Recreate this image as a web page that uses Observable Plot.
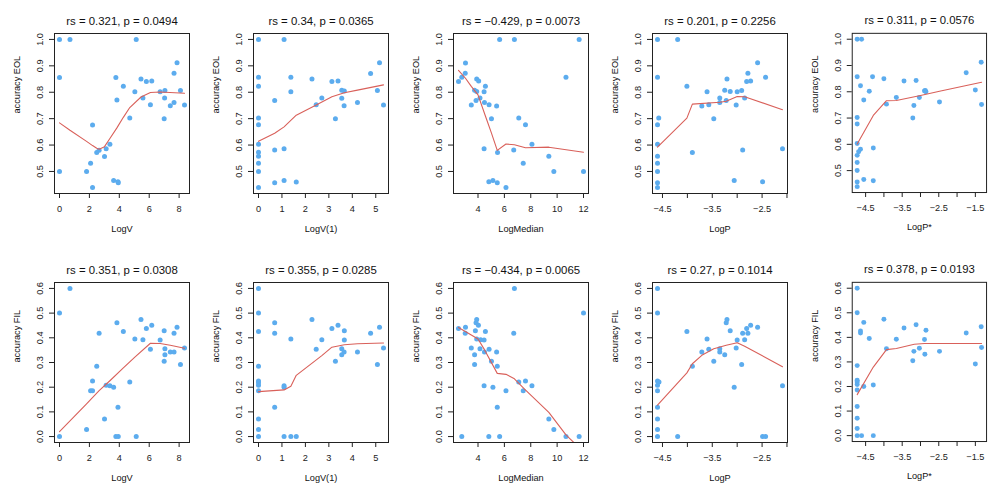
<!DOCTYPE html>
<html><head><meta charset="utf-8">
<script src="https://cdn.jsdelivr.net/npm/d3@7"></script>
<script src="https://cdn.jsdelivr.net/npm/@observablehq/plot@0.6"></script>
<style>
body{margin:0;background:#fff}
#c{position:relative;width:997px;height:498px;overflow:hidden}
.p{position:absolute}
</style>
</head><body><div id="c"></div>
<script>
// ---- data ----
const titles = ["rs = 0.321, p = 0.0494","rs = 0.34, p = 0.0365","rs = \u22120.429, p = 0.0073","rs = 0.201, p = 0.2256","rs = 0.311, p = 0.0576",
                "rs = 0.351, p = 0.0308","rs = 0.355, p = 0.0285","rs = \u22120.434, p = 0.0065","rs = 0.27, p = 0.1014","rs = 0.378, p = 0.0193"];
const xLabels = ["LogV","LogV(1)","LogMedian","LogP","LogP*"];
const yLabels = ["accuracy EOL","accuracy FIL"];
const ticksLogV = [0,2,4,6,8];
const ticksLogV1 = [0,1,2,3,4,5];
const ticksLogMedian = [4,6,8,10,12];
const ticksLogP = [-4.5,-4,-3.5,-3,-2.5,-2];
const labelsLogP = [-4.5,-3.5,-2.5];
const ticksLogPstar = [-4.5,-4,-3.5,-3,-2.5,-2,-1.5];
const labelsLogPstar = [-4.5,-3.5,-2.5,-1.5];
const ticksEOL = [0.5,0.6,0.7,0.8,0.9,1.0];
const ticksFIL = [0,0.1,0.2,0.3,0.4,0.5,0.6];

const eolLogV = [[0,1.0],[0.70,1.0],[5.13,1.0],[0,0.856],[0,0.5],[7.86,0.912],[7.66,0.872],[3.77,0.856],[5.45,0.85],[5.81,0.841],[6.17,0.843],[4.27,0.823],[5.04,0.802],[6.73,0.802],[7.05,0.807],[8.09,0.807],[5.58,0.778],[7.03,0.778],[3.84,0.771],[7.66,0.761],[7.41,0.749],[8.36,0.752],[6.08,0.753],[4.70,0.702],[7.0,0.70],[2.21,0.676],[3.37,0.603],[3.12,0.586],[2.65,0.580],[2.49,0.572],[3.01,0.557],[2.08,0.531],[1.81,0.5],[3.62,0.466],[3.91,0.461],[3.93,0.457],[2.21,0.439]];
const eolLogVFit = [[0,0.684],[0.7,0.656],[1.81,0.614],[2.21,0.598],[2.49,0.588],[2.65,0.584],[3.01,0.594],[3.37,0.625],[3.84,0.665],[4.27,0.705],[4.70,0.742],[5.45,0.782],[6.08,0.799],[6.73,0.801],[8.36,0.796]];

const eolLogV1 = [[0,1.0],[1.09,1.0],[0,0.857],[0,0.823],[0,0.702],[0,0.677],[0,0.603],[0,0.573],[0,0.558],[0,0.531],[0,0.5],[0,0.439],[0.69,0.769],[0.69,0.581],[0.69,0.457],[1.09,0.586],[1.09,0.466],[1.38,0.857],[1.38,0.802],[1.61,0.46],[2.28,0.85],[2.46,0.753],[2.70,0.778],[3.13,0.841],[3.39,0.843],[3.28,0.70],[3.55,0.808],[3.55,0.777],[3.66,0.805],[3.65,0.749],[4.22,0.761],[4.78,0.871],[5.16,0.912],[5.07,0.807],[5.33,0.752]];
const eolLogV1Fit = [[0,0.614],[0.69,0.645],[1.09,0.669],[1.61,0.713],[2.46,0.752],[3.13,0.783],[3.66,0.798],[4.22,0.808],[5.33,0.828]];

const eolLogMedian = [[5.64,1.0],[6.76,1.0],[11.67,1.0],[10.67,0.857],[2.52,0.841],[2.77,0.857],[3.05,0.911],[3.03,0.872],[3.90,0.85],[4.05,0.843],[4.56,0.823],[3.74,0.808],[3.90,0.803],[4.46,0.802],[4.15,0.778],[3.85,0.769],[3.49,0.752],[4.49,0.761],[4.84,0.753],[5.41,0.748],[5.02,0.70],[7.09,0.702],[7.60,0.677],[8.09,0.603],[4.46,0.586],[5.48,0.572],[6.71,0.581],[9.37,0.558],[7.43,0.531],[9.75,0.50],[12.0,0.50],[4.82,0.461],[5.13,0.466],[5.46,0.457],[6.12,0.439]];
const eolLogMedianFit = [[2.52,0.883],[3.05,0.853],[3.49,0.822],[4.0,0.79],[4.56,0.71],[5.02,0.645],[5.46,0.58],[6.12,0.604],[6.76,0.601],[7.6,0.59],[9.37,0.592],[12,0.573]];

const eolLogP = [[-4.60,1.0],[-4.195,1.0],[-4.60,0.857],[-4.01,0.823],[-4.575,0.702],[-4.60,0.677],[-4.60,0.603],[-4.60,0.558],[-4.60,0.531],[-4.60,0.50],[-4.60,0.457],[-4.60,0.439],[-3.90,0.572],[-3.71,0.748],[-3.57,0.753],[-3.605,0.802],[-3.47,0.70],[-3.35,0.778],[-3.35,0.761],[-3.25,0.808],[-3.22,0.769],[-3.205,0.85],[-3.14,0.803],[-3.06,0.466],[-3.02,0.752],[-3.00,0.802],[-2.91,0.807],[-2.89,0.581],[-2.85,0.778],[-2.81,0.841],[-2.785,0.872],[-2.73,0.843],[-2.59,0.912],[-2.43,0.857],[-2.49,0.461],[-2.09,0.586]];
const eolLogPFit = [[-4.60,0.592],[-4.01,0.702],[-3.90,0.755],[-3.35,0.762],[-3.22,0.766],[-3.0,0.784],[-2.85,0.783],[-2.09,0.734]];

const eolLogPstar = [[-4.73,1.0],[-4.61,1.0],[-4.73,0.857],[-4.31,0.857],[-4.64,0.823],[-4.55,0.769],[-4.40,0.802],[-4.0,0.85],[-3.93,0.753],[-3.66,0.778],[-3.45,0.841],[-3.12,0.843],[-3.18,0.748],[-3.21,0.70],[-3.03,0.778],[-2.89,0.803],[-2.87,0.805],[-2.85,0.80],[-2.48,0.761],[-1.75,0.872],[-1.50,0.807],[-1.34,0.912],[-1.33,0.752],[-4.73,0.702],[-4.73,0.677],[-4.73,0.603],[-4.69,0.572],[-4.64,0.581],[-4.73,0.558],[-4.73,0.531],[-4.73,0.5],[-4.73,0.457],[-4.73,0.439],[-4.55,0.466],[-4.29,0.586],[-4.29,0.461]];
const eolLogPstarFit = [[-4.73,0.601],[-4.29,0.71],[-3.93,0.766],[-3.66,0.767],[-3.03,0.785],[-2.48,0.802],[-1.33,0.836]];

const filLogV = [[0,0.50],[0.70,0.60],[0,0.0],[1.81,0.029],[2.08,0.186],[2.21,0.186],[2.21,0.225],[2.49,0.285],[2.65,0.418],[3.01,0.071],[3.12,0.208],[3.37,0.206],[3.62,0.20],[3.84,0.461],[3.91,0.119],[3.77,0.0],[3.93,0.0],[4.27,0.426],[4.70,0.221],[5.04,0.395],[5.13,0.0],[5.45,0.474],[5.58,0.392],[5.81,0.438],[6.08,0.354],[6.17,0.451],[6.73,0.391],[7.0,0.305],[7.0,0.429],[7.05,0.356],[7.05,0.331],[7.41,0.343],[7.66,0.343],[7.66,0.418],[7.86,0.443],[8.09,0.292],[8.36,0.359]];
const filLogVFit = [[0,0.02],[1.81,0.132],[2.65,0.186],[3.37,0.226],[4.27,0.278],[5.04,0.322],[6.08,0.378],[6.73,0.377],[7.41,0.37],[8.36,0.358]];

const filLogV1 = [[0,0.60],[0,0.50],[0,0.426],[0,0.285],[0,0.225],[0,0.218],[0,0.208],[0,0.186],[0,0.071],[0,0.029],[0,0.0],[0.69,0.461],[0.69,0.418],[0.69,0.119],[1.09,0.206],[1.09,0.20],[1.09,0],[1.38,0.395],[1.38,0],[1.61,0],[2.28,0.474],[2.46,0.354],[2.70,0.392],[3.13,0.438],[3.39,0.451],[3.28,0.305],[3.55,0.356],[3.55,0.331],[3.66,0.429],[3.66,0.391],[3.65,0.343],[4.22,0.343],[4.78,0.418],[5.16,0.443],[5.07,0.292],[5.33,0.359]];
const filLogV1Fit = [[0,0.182],[1.09,0.189],[1.38,0.204],[1.61,0.248],[2.70,0.328],[3.13,0.362],[3.66,0.372],[4.22,0.376],[5.33,0.379]];

const filLogMedian = [[6.76,0.60],[12.0,0.50],[2.52,0.438],[3.05,0.443],[3.03,0.418],[3.90,0.474],[3.85,0.461],[4.03,0.451],[3.80,0.429],[3.90,0.395],[4.20,0.392],[4.46,0.391],[4.56,0.426],[6.71,0.418],[3.49,0.359],[4.15,0.356],[4.84,0.354],[4.49,0.343],[5.41,0.343],[3.74,0.331],[5.02,0.305],[3.74,0.292],[5.46,0.285],[4.46,0.206],[5.13,0.20],[6.12,0.186],[7.09,0.221],[7.60,0.225],[7.43,0.186],[8.09,0.206],[5.46,0.119],[9.37,0.071],[9.75,0.029],[2.77,0],[4.82,0],[5.64,0],[10.67,0],[11.67,0]];
const filLogMedianFit = [[2.52,0.442],[3.49,0.411],[4.0,0.395],[4.49,0.352],[5.46,0.256],[6.12,0.252],[6.76,0.234],[7.53,0.192],[9.37,0.098],[10.67,0.007],[11.67,-0.045]];

const filLogP = [[-4.60,0.60],[-4.60,0.50],[-4.60,0.225],[-4.57,0.221],[-4.60,0.208],[-4.60,0.186],[-4.60,0.119],[-4.60,0.071],[-4.60,0.029],[-4.60,0],[-4.195,0],[-4.01,0.426],[-3.90,0.285],[-3.71,0.343],[-3.605,0.395],[-3.57,0.354],[-3.47,0.305],[-3.35,0.356],[-3.35,0.343],[-3.25,0.331],[-3.22,0.461],[-3.205,0.474],[-3.14,0.429],[-3.06,0.20],[-3.02,0.359],[-3.00,0.391],[-2.91,0.292],[-2.89,0.418],[-2.85,0.392],[-2.81,0.438],[-2.785,0.418],[-2.73,0.451],[-2.59,0.443],[-2.49,0],[-2.43,0],[-2.09,0.206]];
const filLogPFit = [[-4.60,0.127],[-4.01,0.258],[-3.90,0.295],[-3.71,0.329],[-3.47,0.356],[-3.22,0.37],[-3.0,0.38],[-2.85,0.366],[-2.09,0.283]];

const filLogPstar = [[-4.73,0.60],[-4.73,0.50],[-4.73,0.285],[-4.73,0.225],[-4.73,0.218],[-4.73,0.208],[-4.73,0.186],[-4.73,0.119],[-4.73,0.071],[-4.73,0.029],[-4.73,0],[-4.61,0],[-4.29,0],[-4.64,0.426],[-4.64,0.418],[-4.55,0.461],[-4.55,0.20],[-4.40,0.395],[-4.29,0.206],[-4.0,0.474],[-3.93,0.354],[-3.66,0.392],[-3.45,0.438],[-3.12,0.451],[-3.18,0.343],[-3.21,0.305],[-3.03,0.356],[-2.89,0.391],[-2.85,0.429],[-2.88,0.331],[-2.48,0.343],[-1.75,0.418],[-1.50,0.292],[-1.34,0.443],[-1.33,0.359]];
const filLogPstarFit = [[-4.73,0.167],[-4.29,0.279],[-3.93,0.35],[-3.66,0.355],[-3.17,0.372],[-2.89,0.375],[-1.33,0.375]];

// ---- layout ----
const xTickSets = [[ticksLogV,ticksLogV],[ticksLogV1,ticksLogV1],[ticksLogMedian,ticksLogMedian],[ticksLogP,labelsLogP],[ticksLogPstar,labelsLogPstar]];
const rows = [
  {y: ticksEOL, label: yLabels[0], sets: [[eolLogV,eolLogVFit],[eolLogV1,eolLogV1Fit],[eolLogMedian,eolLogMedianFit],[eolLogP,eolLogPFit],[eolLogPstar,eolLogPstarFit]]},
  {y: ticksFIL, label: yLabels[1], sets: [[filLogV,filLogVFit],[filLogV1,filLogV1Fit],[filLogMedian,filLogMedianFit],[filLogP,filLogPFit],[filLogPstar,filLogPstarFit]]}
];
const pad = ([a,b]) => { const d = (b - a) * 0.04; return [a - d, b + d]; };
const numFmt = d => (d < 0 ? "\u2212" : "") + String(Math.abs(d));
const FONT = "'Liberation Sans', Arial, Helvetica, sans-serif";
const container = document.getElementById("c");

rows.forEach((row, r) => {
  row.sets.forEach(([pts, fit], c) => {
    const [ticks, labeled] = xTickSets[c];
    const xd = pad(d3.extent(pts, d => d[0]));
    const yd = pad(d3.extent(pts, d => d[1]));
    const svg = Plot.plot({
      width: 200, height: 249,
      marginLeft: 54, marginRight: 11, marginTop: 33, marginBottom: 56,
      x: {domain: xd},
      y: {domain: yd},
      style: {fontFamily: FONT, fontSize: "9.2px", color: "#222", background: "transparent", overflow: "visible"},
      marks: [
        Plot.axisX({ticks: ticks.filter(t => t >= xd[0] && t <= xd[1]), tickSize: 5, tickPadding: 7,
          tickFormat: d => labeled.includes(d) ? numFmt(d) : "", label: null, stroke: "#222"}),
        Plot.axisY({ticks: row.y, tickSize: 5, tickPadding: 6.5, tickRotate: -90,
          tickFormat: d3.format(".1f"), label: null, stroke: "#222"}),
        Plot.dot(pts, {x: d => d[0], y: d => d[1], r: 2.5, fill: "#5CACEE"}),
        Plot.line(fit, {x: d => d[0], y: d => d[1], stroke: "#D9605A", strokeWidth: 1.1, clip: true}),
        Plot.frame({stroke: "#222", strokeWidth: 1}),
        Plot.text([titles[r * 5 + c]], {text: d => d, frameAnchor: "top", dy: -17, fontSize: 11.4, fill: "#111"}),
        Plot.text([xLabels[c]], {text: d => d, frameAnchor: "bottom", dy: 38, fill: "#111"}),
        Plot.text([row.label], {text: d => d, frameAnchor: "left", dx: -37, rotate: -90, fill: "#111"})
      ]
    });
    const div = document.createElement("div");
    div.className = "p";
    div.style.left = Math.round(c * 199.4) + "px";
    div.style.top = (r * 249) + "px";
    div.appendChild(svg);
    container.appendChild(div);
  });
});
</script>
</body></html>
